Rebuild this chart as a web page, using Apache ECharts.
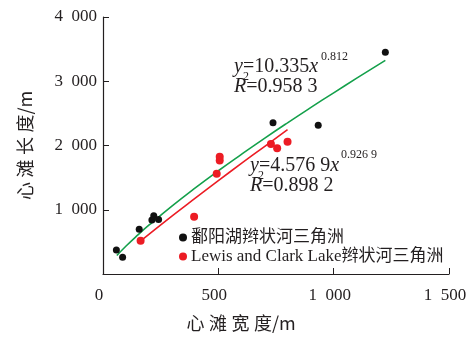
<!DOCTYPE html>
<html>
<head>
<meta charset="utf-8">
<script src="https://cdn.jsdelivr.net/npm/echarts@6/dist/echarts.min.js"></script>
<style>
  html, body { margin: 0; padding: 0; background: #fff; }
  #chart { width: 474px; height: 340px; }
</style>
</head>
<body>
<div id="chart"></div>
<script>
// points: [width, length]
const poyangPoints = [
    [58, 373], [85, 260], [157, 695], [212, 840], [220, 907],
    [241, 850], [737, 2353], [933, 2317], [1224, 3452]
];
const lewisClarkPoints = [
    [163, 518], [395, 891], [493, 1560], [506, 1768], [506, 1825],
    [728, 2022], [755, 1959], [800, 2057]
];
// trend lines
const poyangFit = [
    [60, 287], [100, 435], [150, 604], [200, 763], [300, 1061], [400, 1341],
    [500, 1607], [600, 1862], [700, 2111], [800, 2353], [900, 2589],
    [1000, 2820], [1100, 3048], [1224, 3326]
];
const lewisClarkFit = [
    [165, 520], [300, 905], [400, 1181], [500, 1453], [600, 1721],
    [700, 1984], [800, 2247]
];
const seriesNames = ['鄱阳湖辫状河三角洲', 'Lewis and Clark Lake辫状河三角洲'];

const serif = '"Liberation Serif", "Noto Sans CJK SC", serif';
const cjk = '"Noto Sans CJK SC", "Liberation Serif", sans-serif';
const ink = '#231f20';

function tickLabel(v) {
    if (v === 0) return '0';
    const s = String(v);
    if (s.length > 3) return s.slice(0, s.length - 3) + '\u2002' + s.slice(-3);
    return s;
}

// spread CJK characters a little, like the original typesetting
function spaced(s) {
    return s.split('').join('\u2005');
}

const chart = echarts.init(document.getElementById('chart'), null, { renderer: 'canvas' });

function eqText(left, top, main, sup, r2, supX, supY, twoX, twoY) {
    const rich = { i: { fontStyle: 'italic', fontSize: 20, fontFamily: serif } };
    return [
        { type: 'text', left: left, top: top, style: {
            text: '{i|y}=' + main + '{i|x}', fill: ink, font: '20px ' + serif, rich: rich
        } },
        { type: 'text', left: supX, top: supY, style: { text: sup, fill: ink, font: '12px ' + serif } },
        { type: 'text', left: left, top: top + 20, style: {
            text: '{i|R}=' + r2, fill: ink, font: '20px ' + serif, rich: rich
        } },
        { type: 'text', left: twoX, top: twoY, style: { text: '2', fill: ink, font: '12px ' + serif } }
    ];
}

const option = {
    animation: false,
    grid: { left: 103, right: 25, top: 17, bottom: 66 },
    xAxis: {
        type: 'value',
        min: 0, max: 1500, interval: 500,
        name: spaced('心滩宽度') + '/m',
        nameLocation: 'middle',
        nameGap: 40,
        nameTextStyle: { fontFamily: cjk, fontSize: 18, color: ink, padding: [0, 70, 0, 0] },
        axisLine: { show: true, lineStyle: { color: ink, width: 1.2 } },
        axisTick: { show: true, inside: true, length: 6, lineStyle: { color: ink } },
        axisLabel: {
            formatter: tickLabel, fontFamily: serif, fontSize: 17, color: ink,
            margin: 13, padding: [0, 8, 0, 0]
        },
        splitLine: { show: false }
    },
    yAxis: {
        type: 'value',
        min: 0, max: 4000, interval: 1000,
        name: spaced('心滩长度') + '/m',
        nameLocation: 'middle',
        nameGap: 69,
        nameTextStyle: { fontFamily: cjk, fontSize: 18, color: ink },
        axisLine: { show: true, lineStyle: { color: ink, width: 1.2 } },
        axisTick: { show: true, inside: true, length: 6, lineStyle: { color: ink } },
        axisLabel: {
            formatter: v => v === 0 ? '' : tickLabel(v),
            fontFamily: serif, fontSize: 17, color: ink, margin: 6
        },
        splitLine: { show: false }
    },
    legend: {
        orient: 'vertical',
        left: 174, top: 224,
        itemWidth: 8, itemHeight: 8, itemGap: 2,
        icon: 'circle',
        data: seriesNames,
        textStyle: { fontFamily: serif, fontSize: 17, color: ink, padding: [0, 0, 0, -1] }
    },
    series: [
        {
            name: 'fit1', type: 'line', data: poyangFit, smooth: true, showSymbol: false,
            lineStyle: { color: '#14a04b', width: 1.6 }, z: 1
        },
        {
            name: 'fit2', type: 'line', data: lewisClarkFit, smooth: true, showSymbol: false,
            lineStyle: { color: '#ec1c24', width: 1.6 }, z: 1
        },
        {
            name: seriesNames[0], type: 'scatter', data: poyangPoints, symbolSize: 7,
            itemStyle: { color: '#111111', opacity: 1 }, z: 3
        },
        {
            name: seriesNames[1], type: 'scatter', data: lewisClarkPoints, symbolSize: 8,
            itemStyle: { color: '#ec1c24', opacity: 1 }, z: 3
        }
    ],
    graphic: [].concat(
        eqText(234, 57, '10.335', '0.812', '0.958 3', 321, 51, 243, 71),
        eqText(250, 156, '4.576 9', '0.926 9', '0.898 2', 341, 149, 258, 170)
    )
};

chart.setOption(option);
</script>
</body>
</html>
